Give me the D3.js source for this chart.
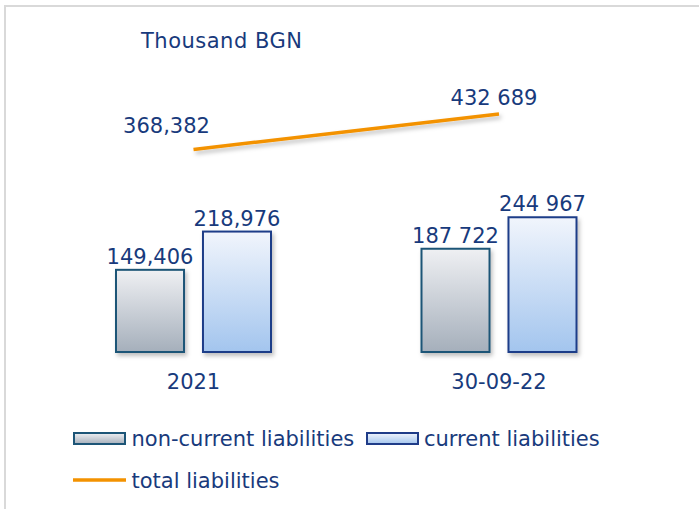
<!DOCTYPE html>
<html>
<head>
<meta charset="utf-8">
<script src="https://cdn.jsdelivr.net/npm/d3@7"></script>
<style>
  body { margin: 0; background: #fff; }
  text { font-family: "DejaVu Sans", Verdana, sans-serif; fill: #183a7c; }
</style>
</head>
<body>
<div id="chart"></div>
<script>
// data (thousand BGN)
const categories = ["2021", "30-09-22"];
const series = ["non-current liabilities", "current liabilities"];
const nonCurrent = [149406, 187722];
const current = [218976, 244967];
const total = [368382, 432689];
const nonCurrentLabels = ["149,406", "187 722"];
const currentLabels = ["218,976", "244 967"];
const totalLabels = ["368,382", "432 689"];

const W = 699, H = 509;
const baseY = 352;
const fs = 21;

const svg = d3.select("#chart").append("svg")
  .attr("width", W)
  .attr("height", H);

const defs = svg.append("defs");
function grad(id, top, bottom) {
  const g = defs.append("linearGradient").attr("id", id)
    .attr("x1", 0).attr("y1", 0).attr("x2", 0).attr("y2", 1);
  g.append("stop").attr("offset", "0%").attr("stop-color", top);
  g.append("stop").attr("offset", "100%").attr("stop-color", bottom);
}
grad("gNon", "#eff0f3", "#a5afbb");
grad("gCur", "#f1f5fc", "#a3c5ee");
defs.append("filter").attr("id", "shadow")
  .attr("x", "-20%").attr("y", "-20%").attr("width", "150%").attr("height", "150%")
  .append("feDropShadow")
  .attr("dx", 2).attr("dy", 3).attr("stdDeviation", 2)
  .attr("flood-color", "#000").attr("flood-opacity", 0.25);

// frame (top and left edges only)
svg.append("path")
  .attr("d", `M5,${H} V6 H${W}`)
  .attr("fill", "none")
  .attr("stroke", "#d9d9d9")
  .attr("stroke-width", 2);

const x = d3.scaleBand()
  .domain(categories)
  .range([40.75, 651.75]);

const xs = d3.scaleBand()
  .domain(series)
  .range([-77.5, 77.5])
  .paddingInner(0.218);

const y = d3.scaleLinear()
  .domain([0, 600000])
  .range([baseY, baseY - 330]);

const cx = c => x(c) + x.bandwidth() / 2;

const styles = {
  "non-current liabilities": { fill: "url(#gNon)", stroke: "#1d5577" },
  "current liabilities": { fill: "url(#gCur)", stroke: "#1f3c88" }
};

const barData = [];
categories.forEach((c, i) => {
  barData.push({ cat: c, s: series[0], v: nonCurrent[i], label: nonCurrentLabels[i] });
  barData.push({ cat: c, s: series[1], v: current[i], label: currentLabels[i] });
});

svg.append("g")
  .selectAll("rect")
  .data(barData)
  .join("rect")
  .attr("x", d => cx(d.cat) + xs(d.s))
  .attr("y", d => y(d.v))
  .attr("width", xs.bandwidth())
  .attr("height", d => y(0) - y(d.v))
  .attr("fill", d => styles[d.s].fill)
  .attr("stroke", d => styles[d.s].stroke)
  .attr("stroke-width", 2)
  .attr("filter", "url(#shadow)");

svg.append("g")
  .selectAll("text")
  .data(barData)
  .join("text")
  .attr("x", d => cx(d.cat) + xs(d.s) + xs.bandwidth() / 2)
  .attr("y", d => y(d.v) - 6)
  .attr("text-anchor", "middle")
  .attr("font-size", fs)
  .text(d => d.label);

// total line
const line = d3.line()
  .x((d, i) => cx(categories[i]))
  .y(d => y(d));

svg.append("path")
  .datum(total)
  .attr("d", line)
  .attr("fill", "none")
  .attr("stroke", "#f39200")
  .attr("stroke-width", 3.5)
  .attr("filter", "url(#shadow)");

svg.append("text")
  .attr("x", cx(categories[0]) - 27)
  .attr("y", y(total[0]) - 16)
  .attr("text-anchor", "middle")
  .attr("font-size", fs)
  .text(totalLabels[0]);

svg.append("text")
  .attr("x", cx(categories[1]) - 5)
  .attr("y", y(total[1]) - 9)
  .attr("text-anchor", "middle")
  .attr("font-size", fs)
  .text(totalLabels[1]);

// category labels
svg.append("g")
  .selectAll("text")
  .data(categories)
  .join("text")
  .attr("x", d => cx(d))
  .attr("y", 389)
  .attr("text-anchor", "middle")
  .attr("font-size", fs)
  .text(d => d);

// unit title
svg.append("text")
  .attr("x", 141)
  .attr("y", 48)
  .attr("font-size", fs)
  .attr("letter-spacing", 0.5)
  .text("Thousand BGN");

// legend
const leg = svg.append("g");
leg.append("rect").attr("x", 74).attr("y", 433).attr("width", 51).attr("height", 11)
  .attr("fill", "url(#gNon)").attr("stroke", "#1d5577").attr("stroke-width", 2);
leg.append("text").attr("x", 131.5).attr("y", 446).attr("font-size", fs).text(series[0]);
leg.append("rect").attr("x", 367).attr("y", 433).attr("width", 51).attr("height", 11)
  .attr("fill", "url(#gCur)").attr("stroke", "#1f3c88").attr("stroke-width", 2);
leg.append("text").attr("x", 424).attr("y", 446).attr("font-size", fs).text(series[1]);
leg.append("line").attr("x1", 73).attr("x2", 126).attr("y1", 480).attr("y2", 480)
  .attr("stroke", "#f39200").attr("stroke-width", 3.5);
leg.append("text").attr("x", 131.5).attr("y", 488).attr("font-size", fs).text("total liabilities");
</script>
</body>
</html>
